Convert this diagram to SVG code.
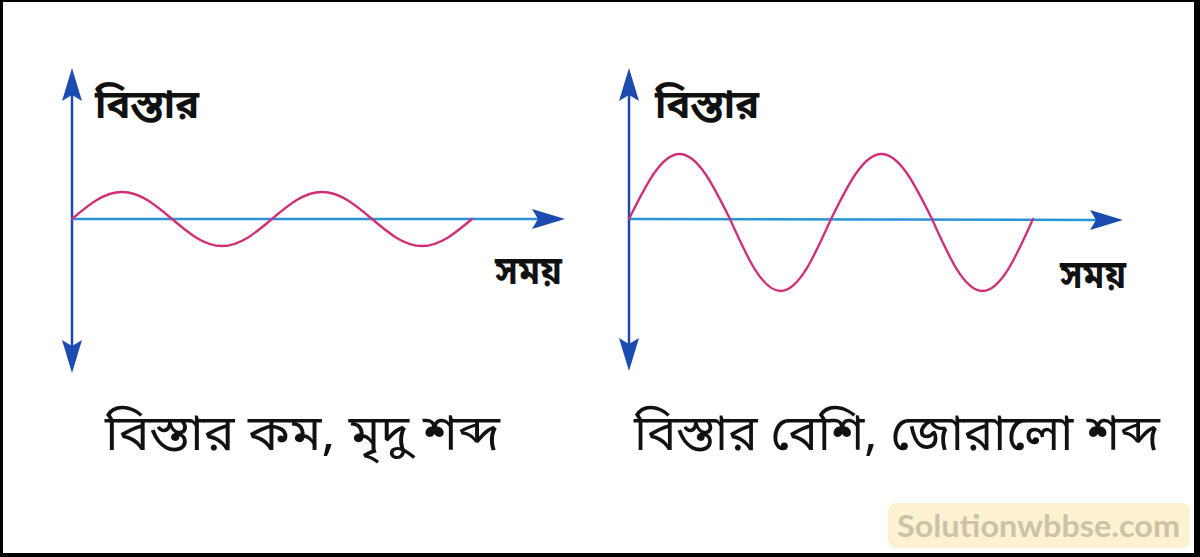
<svg xmlns="http://www.w3.org/2000/svg" width="1200" height="557" viewBox="0 0 1200 557">
  <defs>
    <style>
      .vaxis { stroke: #1d4aa8; stroke-width: 2.5; fill: none; }
      .haxis { stroke: #2b92d8; stroke-width: 2.5; fill: none; }
      .wave { stroke: #cf2f78; stroke-width: 2.3; fill: none; stroke-linecap: round; }
      .ahead { fill: #1c4cb0; }
      .lbl { font-family: "Noto Sans Bengali", "Noto Serif Bengali", "Lohit Bengali", "Noto Sans", sans-serif; fill: #111; }
      .axl { font-size: 40px; font-weight: bold; }
      .cap { font-size: 50px; }
      .wm { font-family: Lato, "Open Sans", sans-serif; font-size: 31px; font-weight: bold; fill: #cbc2a8; }
    </style>
    <path id="arrowUp" d="M0,0 L10,33 L0,27 L-10,33 Z"/>
  </defs>

  <rect x="0" y="0" width="1200" height="557" fill="#000"/>
  <rect x="3" y="2" width="1191" height="551" fill="#fff"/>

  <g id="connectors">
    <line class="vaxis" x1="72" y1="90" x2="72" y2="352"/>
    <line class="haxis" x1="72" y1="219" x2="545" y2="219"/>
    <use href="#arrowUp" class="ahead" transform="translate(72,68)"/>
    <use href="#arrowUp" class="ahead" transform="translate(72,373) rotate(180)"/>
    <use href="#arrowUp" class="ahead" transform="translate(565,219) rotate(90)"/>
    <line class="vaxis" x1="629" y1="90" x2="629" y2="350"/>
    <line class="haxis" x1="629" y1="219" x2="1102" y2="220"/>
    <use href="#arrowUp" class="ahead" transform="translate(629,68)"/>
    <use href="#arrowUp" class="ahead" transform="translate(629,371) rotate(180)"/>
    <use href="#arrowUp" class="ahead" transform="translate(1123,220) rotate(90)"/>
  </g>

  <g id="wave-low">
    <path class="wave" d="M72,219 C88.3,205.2 103.9,192 122,192 S155.7,205.2 172,219 S203.9,246 222,246 S255.7,232.8 272,219 S303.9,192 322,192 S355.7,205.2 372,219 S403.9,246 422,246 S455.7,232.8 472,219"/>
  </g>

  <g id="wave-high">
    <path class="wave" d="M629,219 C645.5,185.7 661.2,154 679.5,154 C697.8,154 713.5,185.7 730,219 C746.5,255.9 762.2,291 780.5,291 C798.8,291 814.5,255.9 831,219 C847.5,185.7 863.2,154 881.5,154 C899.8,154 915.5,185.7 932,219 C948.5,255.9 964.2,291 982.5,291 C1000.8,291 1016.5,255.9 1033,219"/>
  </g>

  <g id="label-amp-left">
    <text class="lbl axl" x="95" y="118">বিস্তার</text>
  </g>
  <g id="label-time-left">
    <text class="lbl axl" x="495" y="284" textLength="67" lengthAdjust="spacingAndGlyphs">সময়</text>
  </g>
  <g id="label-amp-right">
    <text class="lbl axl" x="655" y="118">বিস্তার</text>
  </g>
  <g id="label-time-right">
    <text class="lbl axl" x="1060" y="288" textLength="66" lengthAdjust="spacingAndGlyphs">সময়</text>
  </g>

  <g id="caption-left">
    <text class="lbl cap" x="105" y="450" textLength="395" lengthAdjust="spacingAndGlyphs">বিস্তার কম, মৃদু শব্দ</text>
  </g>
  <g id="caption-right">
    <text class="lbl cap" x="634" y="450" textLength="526" lengthAdjust="spacingAndGlyphs">বিস্তার বেশি, জোরালো শব্দ</text>
  </g>

  <g id="watermark">
    <rect x="888" y="503" width="302" height="45" rx="8" fill="#fcf2d2"/>
    <text class="wm" x="897" y="537" textLength="283" lengthAdjust="spacingAndGlyphs">Solutionwbbse.com</text>
  </g>
</svg>
